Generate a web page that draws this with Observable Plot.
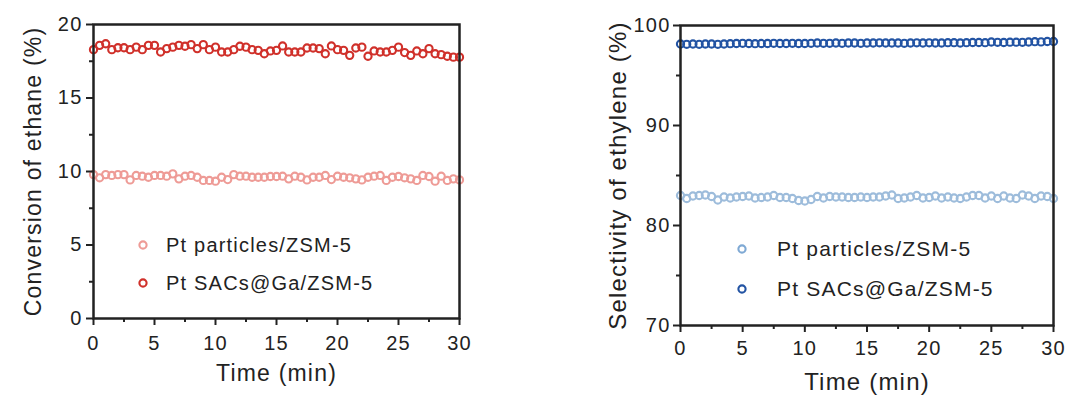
<!DOCTYPE html>
<html>
<head>
<meta charset="utf-8">
<script src="https://cdn.jsdelivr.net/npm/d3@7"></script>
<script src="https://cdn.jsdelivr.net/npm/@observablehq/plot@0.6"></script>
<style>
  html, body { margin: 0; padding: 0; background: #fff; }
  #wrap { position: relative; width: 1080px; height: 406px; overflow: hidden; background: #fff;
          font-family: "Liberation Sans", Arial, Helvetica, sans-serif; color: #222; }
  .panel { position: absolute; top: 0; }
  .legend { position: absolute; font-size: 20px; letter-spacing: 1.2px; white-space: nowrap; }
  .legend .row { position: absolute; display: flex; align-items: center; }
  .legend svg { display: block; }
</style>
</head>
<body>
<div id="wrap">
  <div id="left" class="panel" style="left:0"></div>
  <div id="right" class="panel" style="left:540px"></div>
</div>
<script>
// ---- data ----
const time = [0,0.5,1,1.5,2,2.5,3,3.5,4,4.5,5,5.5,6,6.5,7,7.5,8,8.5,9,9.5,10,10.5,11,11.5,12,12.5,13,13.5,14,14.5,15,15.5,16,16.5,17,17.5,18,18.5,19,19.5,20,20.5,21,21.5,22,22.5,23,23.5,24,24.5,25,25.5,26,26.5,27,27.5,28,28.5,29,29.5,30];

const seriesNames = ["Pt particles/ZSM-5", "Pt SACs@Ga/ZSM-5"];

// Conversion of ethane (%)
const convParticles = [9.79,9.57,9.79,9.73,9.79,9.79,9.43,9.73,9.68,9.61,9.73,9.73,9.68,9.84,9.50,9.68,9.73,9.61,9.39,9.39,9.34,9.61,9.45,9.79,9.68,9.68,9.61,9.61,9.61,9.66,9.66,9.68,9.50,9.68,9.61,9.43,9.61,9.61,9.73,9.45,9.68,9.61,9.57,9.50,9.43,9.61,9.68,9.73,9.39,9.61,9.66,9.57,9.50,9.39,9.73,9.66,9.34,9.68,9.39,9.50,9.43];
const convSACs = [18.29,18.58,18.69,18.29,18.42,18.42,18.29,18.46,18.29,18.58,18.58,18.13,18.36,18.46,18.58,18.52,18.63,18.36,18.63,18.29,18.46,18.13,18.13,18.29,18.52,18.46,18.29,18.24,18.01,18.20,18.24,18.54,18.13,18.13,18.13,18.40,18.40,18.36,18.01,18.54,18.29,18.24,17.90,18.40,18.46,17.84,18.20,18.13,18.13,18.24,18.46,18.09,17.90,18.20,18.01,18.36,18.01,17.95,17.84,17.78,17.78];

// Selectivity of ethylene (%)
const selParticles = [83.0,82.7,82.95,83.0,83.05,82.9,82.55,82.85,82.75,82.85,82.9,82.95,82.75,82.8,82.85,83.0,82.8,82.8,82.7,82.5,82.45,82.6,82.9,82.75,82.9,82.85,82.85,82.8,82.8,82.85,82.8,82.85,82.85,82.95,83.05,82.7,82.75,82.85,83.0,82.75,82.8,82.95,82.75,82.85,82.75,82.7,82.85,83.0,83.0,82.75,82.95,82.7,82.95,82.75,82.7,83.05,82.95,82.7,82.95,82.9,82.7];
const selSACs = [98.15,98.12,98.15,98.12,98.15,98.15,98.12,98.15,98.18,98.2,98.22,98.2,98.18,98.2,98.2,98.22,98.2,98.2,98.22,98.2,98.2,98.22,98.25,98.22,98.22,98.25,98.22,98.25,98.25,98.22,98.25,98.25,98.27,98.25,98.25,98.25,98.22,98.25,98.27,98.25,98.27,98.25,98.25,98.28,98.28,98.25,98.28,98.3,98.3,98.28,98.35,98.32,98.3,98.33,98.33,98.32,98.35,98.38,98.36,98.4,98.4];

const xTicks = [0,5,10,15,20,25,30];
const xMinorTicks = [2.5,7.5,12.5,17.5,22.5,27.5];
const convTicks = [0,5,10,15,20];
const convMinorTicks = [2.5,7.5,12.5,17.5];
const selTicks = [70,80,90,100];
const selMinorTicks = [75,85,95];

const colors = {
  convParticles: "#ee9b96",
  convSACs: "#d0302a",
  selParticles: "#9dbcdb",
  selSACs: "#2253a3"
};
const legendColors = {
  selParticles: "#7fa9d4"
};

function rows(ys) { return time.map((t, i) => ({t, v: ys[i]})); }

const ink = "#222";

function panel(opts) {
  const {width, margins, yDomain, yTicks, yMinor, yLabel, series, titleDx, xTitleDy, tickPadX, tickPadY, fs, tfs} = opts;
  return Plot.plot({
    width, height: 406,
    marginLeft: margins[0], marginRight: margins[1], marginTop: margins[2], marginBottom: margins[3],
    x: {domain: [0, 30]},
    y: {domain: yDomain},
    style: {fontFamily: '"Liberation Sans", Arial, sans-serif', fontSize: fs + "px", color: ink, letterSpacing: "1.2px", background: "white", overflow: "visible"},
    marks: [
      ...series.map(s => Plot.dot(rows(s.values), {x: "t", y: "v", r: 3.6, stroke: s.color, strokeWidth: 2.1, fill: "none"})),
      Plot.axisX({ticks: xTicks, tickSize: 7, tickPadding: tickPadX, strokeWidth: 2, stroke: ink, fill: ink, fontSize: fs, label: null}),
      Plot.axisX({ticks: xMinorTicks, tickSize: 4, strokeWidth: 2, stroke: ink, tickFormat: () => "", label: null}),
      Plot.axisY({ticks: yTicks, tickSize: 7, tickPadding: tickPadY, strokeWidth: 2, stroke: ink, fill: ink, fontSize: fs, label: null}),
      Plot.axisY({ticks: yMinor, tickSize: 4, strokeWidth: 2, stroke: ink, tickFormat: () => "", label: null}),
      Plot.text(["Time (min)"], {frameAnchor: "bottom", dy: xTitleDy, lineAnchor: "middle", textAnchor: "middle", fontSize: tfs, fill: ink}),
      Plot.text([yLabel], {frameAnchor: "left", dx: titleDx, rotate: -90, textAnchor: "middle", lineAnchor: "middle", fontSize: tfs, fill: ink}),
      Plot.frame({stroke: ink, strokeWidth: 2.5})
    ]
  });
}

const left = panel({
  width: 540, margins: [93, 81, 24, 88],
  yDomain: [0, 20], yTicks: convTicks, yMinor: convMinorTicks,
  yLabel: "Conversion of ethane (%)",
  series: [{values: convParticles, color: colors.convParticles}, {values: convSACs, color: colors.convSACs}],
  titleDx: -60, xTitleDy: 55, tickPadX: 10, tickPadY: 4, fs: 20, tfs: 23
});
document.getElementById("left").appendChild(left);

const right = panel({
  width: 540, margins: [140, 27, 25, 81],
  yDomain: [70, 100], yTicks: selTicks, yMinor: selMinorTicks,
  yLabel: "Selectivity of ethylene (%)",
  series: [{values: selParticles, color: colors.selParticles}, {values: selSACs, color: colors.selSACs}],
  titleDx: -62, xTitleDy: 57, tickPadX: 8, tickPadY: 3, fs: 20, tfs: 24
});
document.getElementById("right").appendChild(right);

// ---- legends ----
function legend(x, y, gap, textDx, cols, fontSize) {
  const lg = document.createElement("div");
  lg.className = "legend";
  lg.style.left = x + "px";
  lg.style.top = y + "px";
  lg.style.fontSize = fontSize + "px";
  seriesNames.forEach((name, i) => {
    const row = document.createElement("div");
    row.className = "row";
    row.style.top = (i * gap - 12) + "px";
    row.style.left = "-6px";
    row.style.height = "24px";
    row.innerHTML = `<svg width="12" height="12"><circle cx="6" cy="6" r="3.6" fill="none" stroke="${cols[i]}" stroke-width="2.1"/></svg><span style="margin-left:${textDx}px">${name}</span>`;
    lg.appendChild(row);
  });
  document.getElementById("wrap").appendChild(lg);
}
legend(143, 245, 38, 17, [colors.convParticles, colors.convSACs], 20);
legend(742, 249, 40, 29, [legendColors.selParticles, colors.selSACs], 21);
</script>
</body>
</html>
